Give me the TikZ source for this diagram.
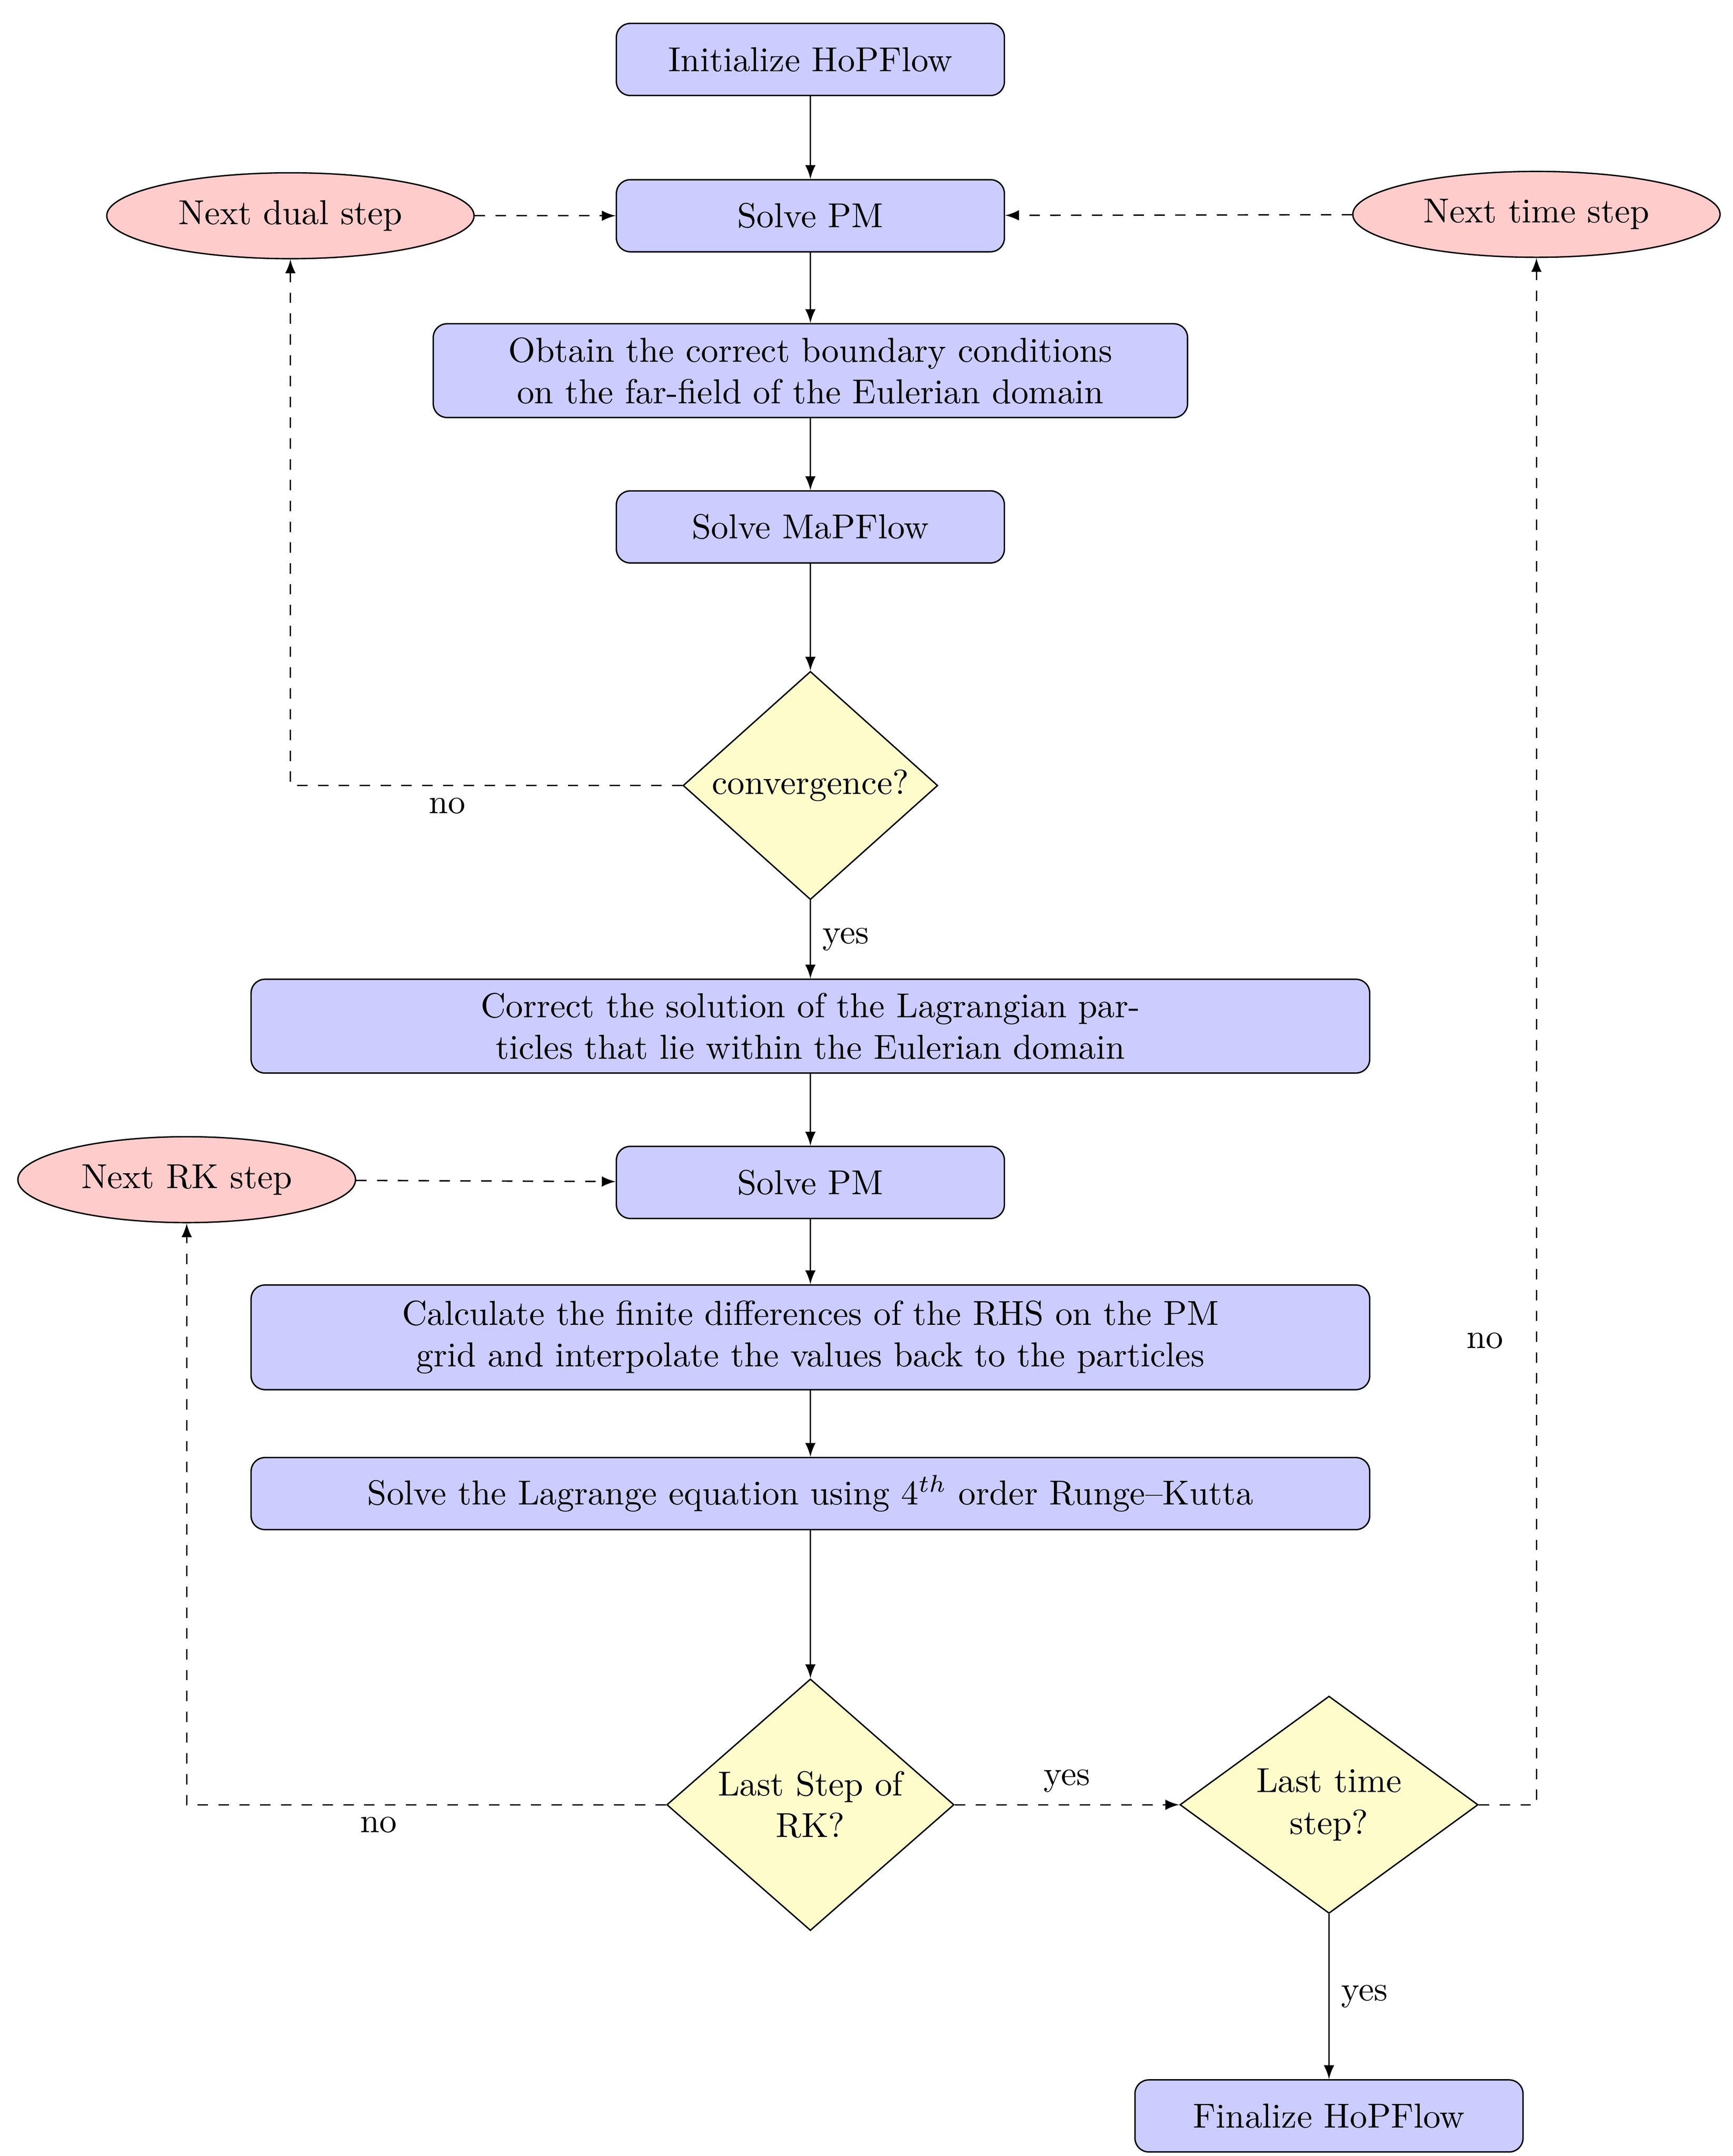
\documentclass[tikz,border=0pt]{standalone}
\usepackage{tikz}
\usetikzlibrary{shapes.geometric,calc}

\tikzset{
  block/.style={rectangle, rounded corners=4pt, draw, fill=blue!20, align=center,
    minimum width=3.93cm, minimum height=0.73cm, inner sep=2pt},
  wide/.style={block, minimum width=11.33cm},
  cloud/.style={ellipse, draw, fill=red!20, minimum width=3.72cm, minimum height=0.87cm, inner sep=1pt},
  decision/.style={diamond, aspect=1, draw, fill=yellow!20, align=center, inner sep=0pt},
  line/.style={draw, -latex},
  dline/.style={draw, dashed, -latex}
}

\begin{document}
\begin{tikzpicture}[x=0.014cm, y=-0.014cm]
        \useasboundingbox (0,0) rectangle (1253,1559);

        \node[block] (init) at (586,43) {Initialize HoPFlow};
        \node[block] (pm1) at (586,156) {Solve PM};
        \node[cloud] (dual) at (210,156) {Next dual step};
        \node[cloud] (time) at (1111,155) {Next time step};
        \node[block, minimum width=7.64cm, minimum height=0.95cm] (bc) at (586,268)
            {Obtain the correct boundary conditions\\on the far-field of the Eulerian domain};
        \node[block] (mapflow) at (586,381) {Solve MaPFlow};
        \node[decision, minimum width=2.58cm] (conv) at (586,568) {convergence?};
        \node[wide, minimum height=0.95cm] (correct) at (586,742)
            {Correct the solution of the Lagrangian par-\\ticles that lie within the Eulerian domain};
        \node[block] (pm2) at (586,855) {Solve PM};
        \node[cloud, minimum width=3.42cm] (rk) at (135,853) {Next RK step};
        \node[wide, minimum height=1.06cm] (calc) at (586,967)
            {Calculate the finite differences of the RHS on the PM\\grid and interpolate the values back to the particles};
        \node[wide] (lagr) at (586,1080) {Solve the Lagrange equation using $4^{th}$ order Runge--Kutta};
        \node[decision, minimum width=2.91cm] (lastrk) at (586,1305) {Last Step of\\RK?};
        \node[decision, minimum width=3.02cm] (lasttime) at (961,1305) {Last time\\step?};
        \node[block] (final) at (961,1530) {Finalize HoPFlow};

        \path[line] (init) -- (pm1);
        \path[line] (pm1) -- (bc);
        \path[line] (bc) -- (mapflow);
        \path[line] (mapflow) -- (conv);
        \path[line] (conv) -- node[right] {yes} (correct);
        \path[line] (correct) -- (pm2);
        \path[line] (pm2) -- (calc);
        \path[line] (calc) -- (lagr);
        \path[line] (lagr) -- (lastrk);
        \path[line] (lasttime) -- node[right] {yes} (final);

        \path[dline] (dual) -- (pm1);
        \path[dline] (time) -- (pm1);
        \path[dline] (rk) -- (pm2);
        \path[dline] (conv.west) -| node[pos=0.3, below] {no} (dual.south);
        \path[dline] (lastrk.west) -| node[pos=0.3, below] {no} (rk.south);
        \path[dline] (lastrk) -- node[above] {yes} (lasttime);
        \path[dline] (lasttime.east) -| node[pos=0.65, left=6pt] {no} (time.south);
    \end{tikzpicture}
\end{document}
